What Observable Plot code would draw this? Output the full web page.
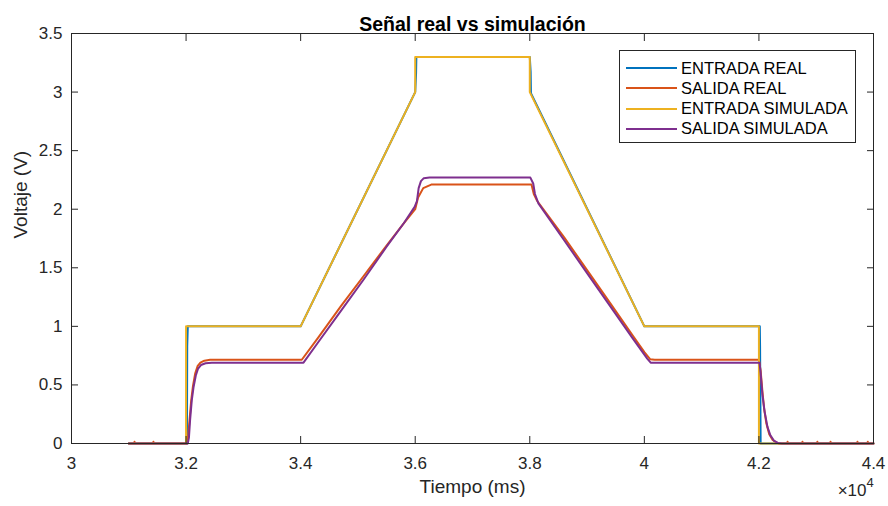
<!DOCTYPE html>
<html>
<head>
<meta charset="utf-8">
<script src="https://cdn.jsdelivr.net/npm/d3@7"></script>
<script src="https://cdn.jsdelivr.net/npm/@observablehq/plot@0.6"></script>
<style>
  html, body { margin: 0; padding: 0; background: #fff; }
  #wrap { position: relative; width: 888px; height: 506px; font-family: "Liberation Sans", Arial, Helvetica, sans-serif; }
  #legend { position: absolute; left: 619px; top: 50px; width: 237px; height: 93px; border: 1px solid #262626; background: #fff; box-sizing: border-box; }
  .row { position: absolute; left: 0; height: 20px; display: flex; align-items: center; font-size: 16.5px; color: #000; }
  .sw { width: 51px; height: 2px; margin-left: 6px; margin-right: 4px; }
</style>
</head>
<body>
<div id="wrap"></div>
<script>
// ---------- data (time in ms, voltage in V) ----------
const title = "Señal real vs simulación";
const xLabel = "Tiempo (ms)";
const yLabel = "Voltaje (V)";
const seriesNames = ["ENTRADA REAL", "SALIDA REAL", "ENTRADA SIMULADA", "SALIDA SIMULADA"];
const seriesColors = ["#0072BD", "#D95319", "#EDB120", "#7E2F8E"];

const xTicks = [30000, 32000, 34000, 36000, 38000, 40000, 42000, 44000];
const xTickLabels = ["3", "3.2", "3.4", "3.6", "3.8", "4", "4.2", "4.4"];
const yTicks = [0, 0.5, 1, 1.5, 2, 2.5, 3, 3.5];
const yTickLabels = ["0", "0.5", "1", "1.5", "2", "2.5", "3", "3.5"];

const entradaReal = [
  [31000, 0], [32015, 0], [32020, 0.83], [32030, 1], [34000, 1], [36000, 3.0],
  [36015, 3.16], [36020, 3.3], [38000, 3.3], [38015, 3.17], [38020, 2.99],
  [40000, 1], [42015, 1], [42020, 0.83], [42030, 0], [44000, 0]
];
const salidaReal = [
  [31000, 0], [31090, 0], [31100, 0.015], [31110, 0], [31420, 0], [31430, 0.015], [31440, 0],
  [32020, 0], [32040, 0.08], [32060, 0.2], [32090, 0.37], [32120, 0.49], [32160, 0.6],
  [32200, 0.66], [32250, 0.69], [32320, 0.707], [32420, 0.715], [34020, 0.715],
  [34300, 0.9], [34700, 1.17], [35100, 1.43], [35500, 1.69], [35800, 1.88], [36000, 2.0],
  [36050, 2.1], [36140, 2.18], [36280, 2.21],
  [38030, 2.21], [38070, 2.13], [38130, 2.07], [38600, 1.76], [39000, 1.48],
  [39400, 1.2], [39800, 0.92], [40000, 0.78], [40100, 0.72], [40180, 0.715],
  [42000, 0.715], [42030, 0.62], [42060, 0.45], [42090, 0.3], [42130, 0.17], [42180, 0.08],
  [42240, 0.03], [42300, 0.01], [42350, 0], [42490, 0], [42500, 0.015], [42510, 0],
  [42750, 0], [42760, 0.015], [42770, 0], [43010, 0], [43020, 0.015], [43030, 0],
  [43240, 0], [43250, 0.015], [43260, 0], [43710, 0], [43720, 0.015], [43730, 0],
  [43890, 0], [43900, 0.015], [43910, 0], [44000, 0]
];
const entradaSimulada = [
  [31000, 0], [32000, 0], [32000, 1], [34000, 1], [36000, 3], [36000, 3.3],
  [38000, 3.3], [38000, 3], [40000, 1], [42000, 1], [42000, 0], [44000, 0]
];
const salidaSimulada = [
  [31000, 0], [32030, 0], [32050, 0.05], [32070, 0.2], [32100, 0.37], [32130, 0.48],
  [32170, 0.58], [32210, 0.64], [32260, 0.67], [32340, 0.685], [32450, 0.69],
  [34050, 0.69], [34300, 0.86], [34700, 1.13], [35100, 1.4], [35500, 1.68], [35800, 1.88],
  [35990, 2.02], [36030, 2.07], [36060, 2.18], [36100, 2.24], [36150, 2.265], [36250, 2.27],
  [38010, 2.27], [38060, 2.22], [38090, 2.13], [38150, 2.05], [38600, 1.735], [39000, 1.455],
  [39400, 1.175], [39800, 0.895], [40050, 0.725], [40110, 0.69], [42010, 0.69], [42030, 0.6],
  [42060, 0.42], [42100, 0.27], [42150, 0.14], [42200, 0.07], [42260, 0.025], [42330, 0.005],
  [42400, 0], [44000, 0]
];

const allSeries = [entradaReal, salidaReal, entradaSimulada, salidaSimulada];

// ---------- chart ----------
const ink = "#262626";
const fmtX = (d) => xTickLabels[xTicks.indexOf(d)];
const fmtY = (d) => yTickLabels[yTicks.indexOf(d)];
const blank = () => "";

const lineMarks = allSeries.map((s, i) =>
  Plot.line(s, {x: d => d[0], y: d => d[1], stroke: seriesColors[i], strokeWidth: 2, curve: "linear"})
);

const chart = Plot.plot({
  width: 888,
  height: 506,
  marginLeft: 71,
  marginRight: 15,
  marginTop: 33,
  marginBottom: 63,
  x: {domain: [30000, 44000]},
  y: {domain: [0, 3.5]},
  style: {fontFamily: '"Liberation Sans", Arial, Helvetica, sans-serif', color: ink, background: "white", overflow: "visible"},
  marks: [
    ...lineMarks,
    Plot.frame({stroke: ink, strokeWidth: 1}),
    // tick labels
    Plot.axisX(xTicks, {anchor: "bottom", tickSize: 0, tickPadding: 13, tickFormat: fmtX, fontSize: 17, label: null, fill: ink}),
    Plot.axisY(yTicks, {anchor: "left", tickSize: 0, tickPadding: 9, tickFormat: fmtY, fontSize: 17, label: null, fill: ink}),
    // inward ticks on all four sides
    Plot.axisX(xTicks, {anchor: "bottom", tickSize: 7, dy: -7, tickFormat: blank, label: null}),
    Plot.axisX(xTicks, {anchor: "top", tickSize: 7, dy: 7, tickFormat: blank, label: null}),
    Plot.axisY(yTicks, {anchor: "left", tickSize: 7, dx: 7, tickFormat: blank, label: null}),
    Plot.axisY(yTicks, {anchor: "right", tickSize: 7, dx: -7, tickFormat: blank, label: null}),
    // titles
    Plot.text([title], {text: d => d, frameAnchor: "top", dy: -16, fontWeight: "bold", fontSize: 19.5, fill: "#000"}),
    Plot.text([xLabel], {text: d => d, frameAnchor: "bottom", dy: 49, fontSize: 19, fill: ink}),
    Plot.text([yLabel], {text: d => d, frameAnchor: "left", dx: -51, rotate: -90, fontSize: 19, fill: ink}),
    Plot.text(["×10"], {text: d => d, frameAnchor: "bottom-right", dx: -7, dy: 52, textAnchor: "end", fontSize: 17, fill: ink}),
    Plot.text(["4"], {text: d => d, frameAnchor: "bottom-right", dx: -7, dy: 43, textAnchor: "start", fontSize: 13, fill: ink})
  ]
});

const wrap = document.getElementById("wrap");
wrap.appendChild(chart);

// legend box (HTML overlay)
const legend = document.createElement("div");
legend.id = "legend";
seriesNames.forEach((name, i) => {
  const row = document.createElement("div");
  row.className = "row";
  row.style.top = (7 + i * 20.3) + "px";
  const sw = document.createElement("div");
  sw.className = "sw";
  sw.style.background = seriesColors[i];
  const tx = document.createElement("span");
  tx.textContent = name;
  row.appendChild(sw);
  row.appendChild(tx);
  legend.appendChild(row);
});
wrap.appendChild(legend);
</script>
</body>
</html>
